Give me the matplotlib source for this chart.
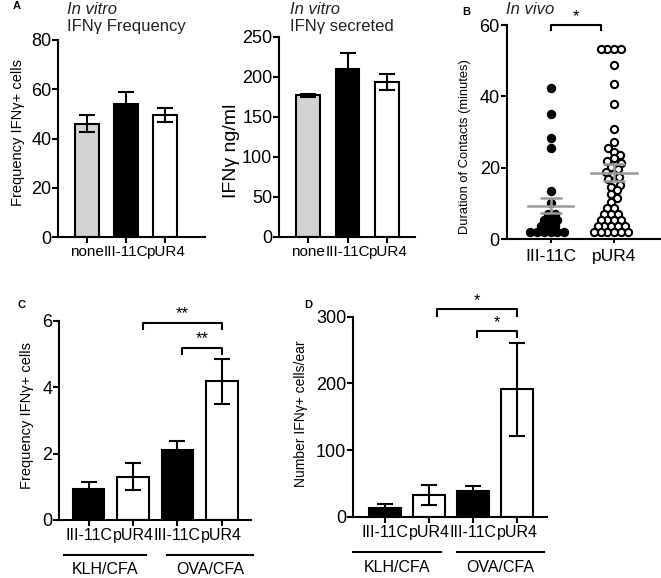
import numpy as np
import matplotlib
matplotlib.use('Agg')
import matplotlib.pyplot as plt
from matplotlib.transforms import blended_transform_factory

plt.rcParams['font.family'] = ['Liberation Sans', 'DejaVu Sans']

# ---------------- data ----------------
a_cats = ['none', 'III-11C', 'pUR4']
a_freq = [46, 54, 49.5]
a_freq_err = [3.5, 5, 3]
a_sec = [177, 210, 193]
a_sec_err = [2, 20, 10]
a_colors = ['#d3d3d3', 'black', 'white']

b_cats = ['III-11C', 'pUR4']
b_iii = [42.4, 35.0, 28.2, 25.4, 13.5, 10.0, 7.1, 7.1, 5.4, 5.4, 5.4,
         3.7, 3.7, 3.7, 2.0, 2.0, 2.0, 2.0, 2.0, 2.0]
b_pur = [53.3, 53.3, 53.3, 53.3, 48.8, 43.4, 37.8, 30.8, 27.1, 25.5, 24.5, 23.5, 22.6,
         21.8, 21.2, 20.2, 19.5, 18.9, 18.2, 17.5, 16.8, 16.1, 15.2, 14.5, 13.6,
         12.5, 11.5, 10.5, 8.8, 8.8, 7.1, 7.1, 7.1, 5.4, 5.4, 5.4, 5.4,
         3.7, 3.7, 3.7, 3.7, 3.7, 2.0, 2.0, 2.0, 2.0, 2.0, 2.0]
b_mean = [9.3, 18.6]
b_sem = [2.1, 2.3]

cd_cats = ['III-11C', 'pUR4', 'III-11C', 'pUR4']
cd_groups = ['KLH/CFA', 'OVA/CFA']
c_freq = [0.92, 1.3, 2.12, 4.17]
c_err = [0.22, 0.41, 0.27, 0.68]
d_num = [13.5, 33, 39, 191]
d_err = [5, 15, 7, 70]
cd_colors = ['black', 'white', 'black', 'white']

# ---------------- layout helpers ----------------
W, H = 661, 578
fig = plt.figure(figsize=(W / 100, H / 100), dpi=100)


def add_ax(l, r, t, b):
    return fig.add_axes([l / W, 1 - b / H, (r - l) / W, (b - t) / H])


def ftext(x, y, s, **kw):
    return fig.text(x / W, 1 - y / H, s, **kw)


def style(ax, ylim, yticks, ytfs=13, xtfs=11):
    for s in ['top', 'right']:
        ax.spines[s].set_visible(False)
    for s in ['left', 'bottom']:
        ax.spines[s].set_linewidth(1.5)
    ax.set_ylim(*ylim)
    ax.set_yticks(yticks)
    ax.tick_params(axis='both', width=1.5, length=4, direction='out', color='black')
    ax.tick_params(axis='y', labelsize=ytfs, pad=1)
    ax.tick_params(axis='x', labelsize=xtfs, pad=2)


def bars(ax, vals, errs, colors, labels, width):
    x = np.arange(len(vals))
    ax.bar(x, vals, width, color=colors, edgecolor='black', linewidth=1.5, zorder=2)
    ax.errorbar(x, vals, yerr=errs, fmt='none', ecolor='black', elinewidth=1.5,
                capsize=5.8, capthick=1.5, zorder=3)
    ax.set_xticks(x)
    ax.set_xticklabels(labels)


def sig(ax, x0, x1, y, tick, label, fs=12):
    ax.plot([x0, x0, x1, x1], [y - tick, y, y, y - tick], color='black', lw=1.5,
            clip_on=False, solid_capstyle='butt')
    ax.text((x0 + x1) / 2, y + tick * 0.15, label, ha='center', va='bottom',
            fontsize=fs, clip_on=False)


def swarm_x(ax, xc, ys, diam_px, frac=0.75):
    """Beeswarm offsets computed in pixel space (overlap allowed by frac)."""
    ys = np.asarray(ys, float)
    pix = ax.transData.transform(np.column_stack([np.full(len(ys), xc), ys]))
    ypix = pix[:, 1]
    x0 = pix[0, 0]
    d = diam_px * frac
    grid = np.arange(-40, 40.01, 0.25)
    grid = grid[np.lexsort((grid, np.abs(grid)))]
    placed = []
    offs = np.zeros(len(ys))
    for i in np.argsort(ypix, kind='stable'):
        y = ypix[i]
        neigh = np.array([(px, py) for px, py in placed if abs(py - y) < d])
        chosen = grid[-1]
        for c in grid:
            if len(neigh) == 0 or np.all((c - neigh[:, 0]) ** 2 + (y - neigh[:, 1]) ** 2
                                          >= d ** 2 - 1e-6):
                chosen = c
                break
        placed.append((chosen, y))
        offs[i] = chosen
    inv = ax.transData.inverted()
    return inv.transform(np.column_stack([x0 + offs, ypix]))[:, 0]


# ---------------- Panel A left ----------------
ax1 = add_ax(58.3, 205, 40, 237)
ax1.set_xlim(-0.74, 3.02)
style(ax1, (0, 80), [0, 20, 40, 60, 80], xtfs=11)
bars(ax1, a_freq, a_freq_err, a_colors, a_cats, 0.6)
ftext(18, 133, 'Frequency IFNγ+ cells', rotation=90, ha='center', va='center', fontsize=10.5)
ftext(67, 10, 'In vitro', style='italic', fontsize=12, va='center', color='#222222')
ftext(67, 27, 'IFNγ Frequency', fontsize=12, va='center', color='#222222')
ftext(13, 6, 'A', fontsize=8, fontweight='bold', va='center')

# ---------------- Panel A right ----------------
ax2 = add_ax(279.3, 415, 36.7, 236.7)
ax2.set_xlim(-0.73, 2.71)
style(ax2, (0, 250), [0, 50, 100, 150, 200, 250], xtfs=11)
bars(ax2, a_sec, a_sec_err, a_colors, a_cats, 0.6)
ftext(232, 151, 'IFNγ ng/ml', rotation=90, ha='center', va='center', fontsize=14)
ftext(290, 10, 'In vitro', style='italic', fontsize=12, va='center', color='#222222')
ftext(290, 27, 'IFNγ secreted', fontsize=12, va='center', color='#222222')

# ---------------- Panel B ----------------
ax3 = add_ax(506.7, 660, 25, 239)
ax3.set_xlim(-0.69, 1.72)
style(ax3, (0, 60), [0, 20, 40, 60], xtfs=12.5)
ax3.tick_params(axis='x', length=3, pad=4)
ax3.set_xticks([0, 1])
ax3.set_xticklabels(b_cats)
xs0 = swarm_x(ax3, 0, b_iii, 9.5, 0.7)
xs1 = swarm_x(ax3, 1, b_pur, 9.0, 0.75)
ax3.scatter(xs0, b_iii, s=46, color='black', linewidths=0, zorder=3, clip_on=False)
ax3.scatter(xs1, b_pur, s=27, facecolor='white', edgecolor='black', linewidths=1.5,
            zorder=3, clip_on=False)
for i in range(2):
    ax3.plot([i - 0.36, i + 0.36], [b_mean[i]] * 2, color='#9a9a9a', lw=1.8, zorder=5)
ax3.errorbar([0, 1], b_mean, yerr=b_sem, fmt='none', ecolor='#9a9a9a', elinewidth=1.8,
             capsize=8, capthick=1.8, zorder=5)
sig(ax3, 0, 0.8, 60.1, 1.7, '*', fs=12)
ftext(465, 146.5, 'Duration of Contacts (minutes)', rotation=90, ha='center',
      va='center', fontsize=9.3)
ftext(506, 10, 'In vivo', style='italic', fontsize=12, va='center', color='#222222')
ftext(462, 12, 'B', fontsize=8, fontweight='bold', va='center')

# ---------------- Panel C ----------------
ax4 = add_ax(59.3, 250.7, 320.7, 520)
ax4.set_xlim(-0.66, 3.65)
style(ax4, (0, 6), [0, 2, 4, 6], xtfs=11.5)
bars(ax4, c_freq, c_err, cd_colors, cd_cats, 0.71)
sig(ax4, 1.22, 3, 5.94, 0.22, '**')
sig(ax4, 2.1, 3, 5.19, 0.22, '**')
ftext(27, 415.8, 'Frequency IFNγ+ cells', rotation=90, ha='center', va='center', fontsize=10.5)
ftext(17, 305, 'C', fontsize=8, fontweight='bold', va='center')
trC = blended_transform_factory(ax4.transData, fig.transFigure)
c_spans = [(-0.55, 1.3), (1.77, 3.7)]
for (g0, g1), name in zip(c_spans, cd_groups):
    ax4.plot([g0, g1], [1 - 555 / H] * 2, color='black', lw=1.5, transform=trC,
             clip_on=False)
    ax4.text((g0 + g1) / 2, 1 - 569 / H, name, transform=trC, ha='center', va='center',
             fontsize=11.5)

# ---------------- Panel D ----------------
ax5 = add_ax(353.3, 546.7, 316.7, 516.7)
ax5.set_xlim(-0.72, 3.675)
style(ax5, (0, 300), [0, 100, 200, 300], xtfs=11.5)
bars(ax5, d_num, d_err, cd_colors, cd_cats, 0.71)
sig(ax5, 1.19, 3, 311, 11, '*')
sig(ax5, 2.08, 3, 278.5, 11, '*')
ftext(301, 414, 'Number IFNγ+ cells/ear', rotation=90, ha='center', va='center', fontsize=10)
ftext(304, 305, 'D', fontsize=8, fontweight='bold', va='center')
trD = blended_transform_factory(ax5.transData, fig.transFigure)
d_spans = [(-0.72, 1.28), (1.63, 3.61)]
for (g0, g1), name in zip(d_spans, cd_groups):
    ax5.plot([g0, g1], [1 - 552 / H] * 2, color='black', lw=1.5, transform=trD,
             clip_on=False)
    ax5.text((g0 + g1) / 2, 1 - 567 / H, name, transform=trD, ha='center', va='center',
             fontsize=11.5)

fig.savefig('out.png', dpi=100, facecolor='white')
